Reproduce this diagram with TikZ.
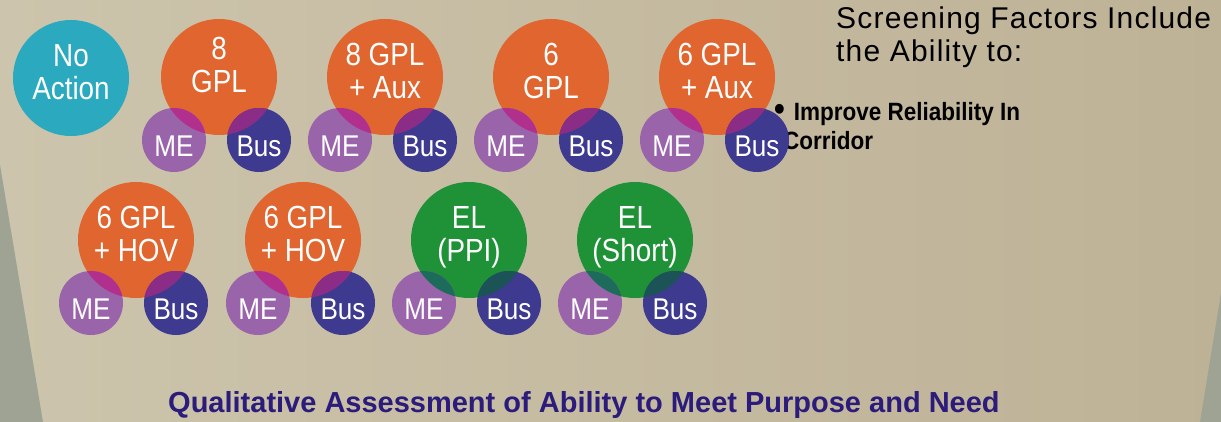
\documentclass[tikz,border=0pt]{standalone}
\usepackage{fontspec}
\setmainfont{Liberation Sans}
\newfontfamily\circfont[FakeStretch=0.87]{Liberation Sans}
\newfontfamily\headfont[LetterSpace=4]{Liberation Sans}
\newfontfamily\bulletfont[FakeStretch=0.9]{Liberation Sans}
\usepackage{tikz}
\usetikzlibrary{positioning,calc}
\definecolor{noactcol}{HTML}{2AA9BF}
\definecolor{lanecol}{HTML}{E0652E}
\definecolor{expcol}{HTML}{1F9238}
\definecolor{mecol}{HTML}{9A64AA}
\definecolor{buscol}{HTML}{3D3A8F}
\definecolor{lanemecol}{HTML}{B1308E}
\definecolor{lanebuscol}{HTML}{8B2C86}
\definecolor{expmecol}{HTML}{1C6B5B}
\definecolor{expbuscol}{HTML}{1B5357}
\definecolor{titlecol}{HTML}{2B1C7C}
\definecolor{bgl}{HTML}{CCC4AC}
\definecolor{bgm}{HTML}{E5DDC7}
\definecolor{bgr}{HTML}{BEB296}
\definecolor{bggray}{HTML}{9FA394}
% where a small circle runs under a big one
\newcommand{\overlapfill}[3]{%
  \begin{scope}
    \clip (#1.center) circle[radius=58pt];
    \fill[#2] (#1me.center) circle[radius=32pt];
    \fill[#3] (#1bus.center) circle[radius=32pt];
  \end{scope}}

\begin{document}
\begin{tikzpicture}[x=1pt,y=-1pt,on grid,
  bigc/.style={circle,minimum size=116pt,inner sep=0pt,text=white,align=center,
    text depth=12pt,font=\circfont\fontsize{32}{33}\selectfont},
  smallc/.style={circle,minimum size=64pt,inner sep=0pt,text=white,
    text height=33pt,text depth=0pt,font=\circfont\fontsize{30}{30}\selectfont},
  me/.style={smallc,fill=mecol,below left=63pt and 45pt of #1},
  bus/.style={smallc,fill=buscol,below right=63pt and 40pt of #1}]
\shade[left color=bgl,middle color=bgm,right color=bgr] (0,0) rectangle (1221,422);
\fill[bggray] (0,165) -- (43,422) -- (0,422) -- cycle;
\fill[bggray] (1221,293) -- (1200,422) -- (1221,422) -- cycle;
\useasboundingbox (0,0) rectangle (1221,422);

\node[anchor=north west,inner sep=0pt,align=left,
  font=\headfont\fontsize{30}{33}\selectfont] (head) at (836,7)
  {Screening Factors Include\\the Ability to:};
\node[anchor=north west,inner sep=0pt,align=left,
  font=\bulletfont\bfseries\fontsize{25}{30}\selectfont] (reliab) at (774,102)
  {{\fontsize{34}{30}\selectfont\textbullet}\hspace{9pt}Improve Reliability In\\[-1pt]\hspace{9pt}Corridor};

% first row
\node[bigc,fill=noactcol] (noact) at (71,78) {No\\Action};
\node[bigc,fill=lanecol,text depth=24pt] (g8) at (219,77) {8\\GPL};
\node[bigc,fill=lanecol,right=166pt of g8] (g8aux) {8 GPL\\+ Aux};
\node[bigc,fill=lanecol,right=166pt of g8aux] (g6) {6\\GPL};
\node[bigc,fill=lanecol,right=166pt of g6] (g6aux) {6 GPL\\+ Aux};

% second row
\node[bigc,fill=lanecol] (hova) at (136,240) {6 GPL\\+ HOV};
\node[bigc,fill=lanecol,right=167pt of hova] (hovb) {6 GPL\\+ HOV};
\node[bigc,fill=expcol,right=166pt of hovb] (elppi) {EL\\(PPI)};
\node[bigc,fill=expcol,right=166pt of elppi] (elshort) {EL\\(Short)};

\node[me=g8] (g8me) {ME};         \node[bus=g8] (g8bus) {Bus};
\node[me=g8aux] (g8auxme) {ME};   \node[bus=g8aux] (g8auxbus) {Bus};
\node[me=g6] (g6me) {ME};         \node[bus=g6] (g6bus) {Bus};
\node[me=g6aux] (g6auxme) {ME};   \node[bus=g6aux] (g6auxbus) {Bus};
\node[me=hova] (hovame) {ME};     \node[bus=hova] (hovabus) {Bus};
\node[me=hovb] (hovbme) {ME};     \node[bus=hovb] (hovbbus) {Bus};
\node[me=elppi] (elppime) {ME};   \node[bus=elppi] (elppibus) {Bus};
\node[me=elshort] (elshortme) {ME}; \node[bus=elshort] (elshortbus) {Bus};

\overlapfill{g8}{lanemecol}{lanebuscol}
\overlapfill{g8aux}{lanemecol}{lanebuscol}
\overlapfill{g6}{lanemecol}{lanebuscol}
\overlapfill{g6aux}{lanemecol}{lanebuscol}
\overlapfill{hova}{lanemecol}{lanebuscol}
\overlapfill{hovb}{lanemecol}{lanebuscol}
\overlapfill{elppi}{expmecol}{expbuscol}
\overlapfill{elshort}{expmecol}{expbuscol}

\node[anchor=base west,inner sep=0pt,text=titlecol,
  font=\bfseries\fontsize{29}{29}\selectfont] (title) at (168,412)
  {Qualitative Assessment of Ability to Meet Purpose and Need};
\end{tikzpicture}
\end{document}
